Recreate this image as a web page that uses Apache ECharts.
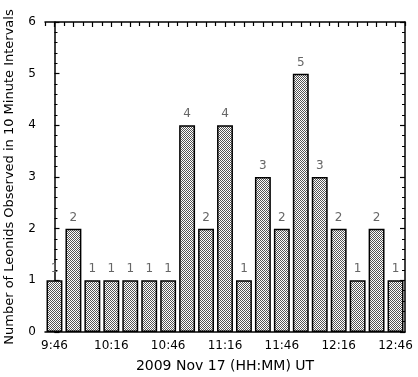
<!DOCTYPE html>
<html>
<head>
<meta charset="utf-8">
<script src="https://cdn.jsdelivr.net/npm/echarts@6/dist/echarts.min.js"></script>
<style>
  html, body { margin: 0; padding: 0; background: #fff; }
  #chart { width: 418px; height: 377px; }
</style>
</head>
<body>
<div id="chart"></div>
<script>
// 10-minute bins, 9:46 to 12:46 UT
const times = ['9:46', '9:56', '10:06', '10:16', '10:26', '10:36', '10:46', '10:56', '11:06', '11:16',
  '11:26', '11:36', '11:46', '11:56', '12:06', '12:16', '12:26', '12:36', '12:46'];
const counts = [1, 2, 1, 1, 1, 1, 1, 4, 2, 4, 1, 3, 2, 5, 3, 2, 1, 2, 1];
const yTicks = [0, 1, 2, 3, 4, 5, 6];

// checkerboard fill like the original hatch
const pat = document.createElement('canvas');
pat.width = 2; pat.height = 2;
const pctx = pat.getContext('2d');
pctx.fillStyle = '#fff';
pctx.fillRect(0, 0, 2, 2);
pctx.fillStyle = '#555';
pctx.fillRect(0, 0, 1, 1);
pctx.fillRect(1, 1, 1, 1);

const font = 'DejaVu Sans';
const chart = echarts.init(document.getElementById('chart'));

const yAxisBase = {
  type: 'value', min: yTicks[0], max: yTicks[yTicks.length - 1], interval: 1,
  axisLine: { show: true, lineStyle: { color: '#000', width: 1.5 } },
  axisTick: { show: true, inside: true, length: 5, lineStyle: { color: '#000', width: 1.2 } },
  minorTick: { show: true, splitNumber: 5, length: 3, lineStyle: { color: '#000', width: 1 } },
  splitLine: { show: false }
};

chart.setOption({
  animation: false,
  grid: { left: 45, right: 13, top: 22, bottom: 45, outerBoundsMode: 'none' },
  xAxis: [
    {
      type: 'category', data: times, position: 'bottom',
      name: '2009 Nov 17 (HH:MM) UT', nameLocation: 'middle', nameGap: 27,
      nameTextStyle: { fontFamily: font, fontSize: 14, color: '#000' },
      axisLine: { show: true, lineStyle: { color: '#000', width: 1.5 } },
      axisTick: { show: true, inside: true, alignWithLabel: true, interval: 0, length: 3, lineStyle: { color: '#000' } },
      axisLabel: { interval: 2, fontFamily: font, fontSize: 12, color: '#000', margin: 8 }
    },
    {
      type: 'value', min: -0.5, max: 18.5, interval: 1, position: 'top',
      axisLine: { show: true, onZero: false, lineStyle: { color: '#000', width: 1.5 } },
      axisTick: { show: true, inside: true, length: 4, lineStyle: { color: '#000', width: 1.2 } },
      minorTick: { show: true, splitNumber: 2, length: 5, lineStyle: { color: '#000', width: 1.2 } },
      axisLabel: { show: false },
      splitLine: { show: false }
    }
  ],
  yAxis: [
    Object.assign({}, yAxisBase, {
      position: 'left',
      name: 'Number of Leonids Observed in 10 Minute Intervals',
      nameLocation: 'middle', nameGap: 29,
      nameTextStyle: { fontFamily: font, fontSize: 13, color: '#000' },
      axisLabel: { fontFamily: font, fontSize: 12, color: '#000', margin: 9 }
    }),
    Object.assign({}, yAxisBase, {
      position: 'right',
      axisLabel: { show: false }
    })
  ],
  series: [{
    type: 'bar',
    data: counts,
    xAxisIndex: 0, yAxisIndex: 0,
    barCategoryGap: '16%',
    itemStyle: {
      color: { image: pat, repeat: 'repeat' },
      borderColor: '#000', borderWidth: 1.5
    },
    label: {
      show: true, position: 'top', distance: 5,
      fontFamily: font, fontSize: 12, color: '#666'
    },
    labelLayout: { hideOverlap: false }
  }]
});
</script>
</body>
</html>
